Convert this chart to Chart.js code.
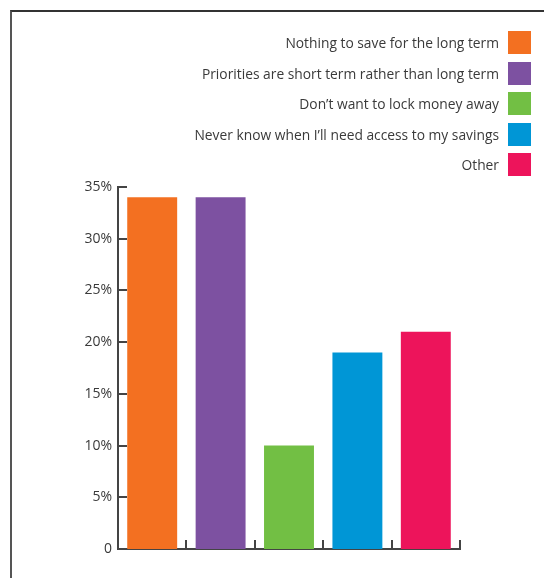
<!DOCTYPE html>
<html>
<head>
<meta charset="utf-8">
<script src="https://cdn.jsdelivr.net/npm/chart.js@4"></script>
<style>
  html, body { margin: 0; padding: 0; background: #fff; }
  body { width: 544px; height: 578px; position: relative; overflow: hidden; font-family: "Open Sans", sans-serif; }
  #frame { position: absolute; left: 10px; top: 10px; right: -4px; bottom: -4px;
           border-left: 2px solid #555; border-top: 2px solid #333; }
  #chartWrap { position: absolute; left: 0; top: 0; width: 544px; height: 578px; }
  #legend { position: absolute; right: 13px; top: 31px; }
  .row { display: flex; justify-content: flex-end; align-items: center; height: 23px; margin-bottom: 7.5px; }
  .row span { font-size: 13.8px; color: #3a3a3a; margin-right: 9px; }
  .row i { display: block; width: 23px; height: 23px; }
</style>
</head>
<body>
<div id="frame"></div>
<div id="chartWrap"><canvas id="reasons"></canvas></div>
<div id="legend"></div>
<script>
const reasons = [
    "Nothing to save for the long term",
    "Priorities are short term rather than long term",
    "Don\u2019t want to lock money away",
    "Never know when I\u2019ll need access to my savings",
    "Other"
];
const shares = [34, 34, 10, 19, 21];
const colours = ["#F37021", "#7D51A1", "#72BF44", "#0096D6", "#ED145B"];
const yTicks = [0, 5, 10, 15, 20, 25, 30, 35];

const axisColour = "#444";

// legend: one row per reason, text right-aligned with the swatch after it
const legend = document.getElementById("legend");
reasons.forEach((r, i) => {
    let row = document.createElement("div");
    row.className = "row";
    let label = document.createElement("span");
    label.textContent = r;
    let box = document.createElement("i");
    box.style.background = colours[i];
    row.appendChild(label);
    row.appendChild(box);
    legend.appendChild(row);
});

// short tick marks pointing into the plot, on both axes
const innerTicks = {
    id: "innerTicks",
    afterDraw(chart) {
        let ctx = chart.ctx;
        let x = chart.scales.x, y = chart.scales.y;
        ctx.save();
        ctx.strokeStyle = axisColour;
        ctx.lineWidth = 2;
        ctx.beginPath();
        yTicks.forEach(v => {
            let py = Math.round(y.getPixelForValue(v));
            ctx.moveTo(x.left, py);
            ctx.lineTo(x.left + 9, py);
        });
        for (let i = 1; i <= reasons.length; i++) {
            let px = Math.round(x.getPixelForValue(i - 0.5));
            ctx.moveTo(px, y.bottom);
            ctx.lineTo(px, y.bottom - 9);
        }
        ctx.stroke();
        ctx.restore();
    }
};

new Chart("reasons", {
    type: "bar",
    data: {
        labels: reasons,
        datasets: [{
            data: shares,
            backgroundColor: colours,
            borderWidth: 0,
            categoryPercentage: 0.73,
            barPercentage: 1
        }]
    },
    options: {
        responsive: true,
        maintainAspectRatio: false,
        animation: false,
        layout: { padding: { left: 58, top: 187, right: 84, bottom: 0 } },
        plugins: { legend: { display: false }, tooltip: { enabled: false } },
        scales: {
            x: {
                grid: { display: false, drawTicks: false },
                border: { display: true, color: axisColour, width: 2 },
                ticks: { display: false },
                afterFit(scale) { scale.height = 29; }
            },
            y: {
                min: 0,
                max: 35,
                grid: { display: false, drawTicks: false },
                border: { display: true, color: axisColour, width: 2 },
                afterBuildTicks(scale) { scale.ticks = yTicks.map(v => ({ value: v })); },
                ticks: {
                    padding: 6,
                    color: "#3a3a3a",
                    font: { family: "Open Sans", size: 14 },
                    callback: v => v === 0 ? "0" : v + "%"
                },
                afterFit(scale) { scale.width = 60; }
            }
        }
    },
    plugins: [innerTicks]
});
</script>
</body>
</html>
